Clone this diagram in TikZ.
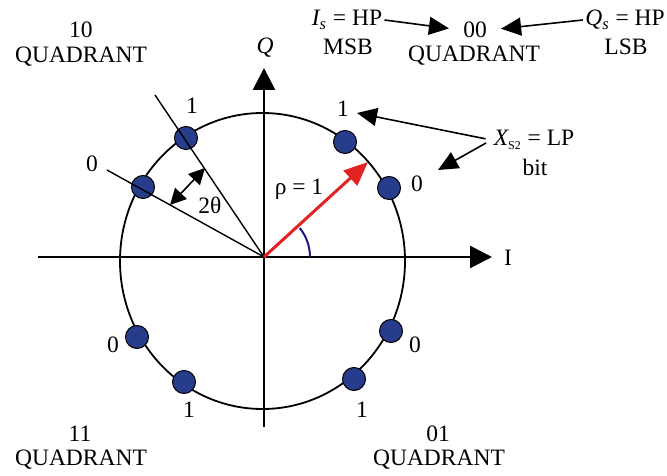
\documentclass[tikz,border=0pt]{standalone}
\usepackage{fontspec}
\setmainfont{Liberation Serif}
\usetikzlibrary{arrows.meta}
\definecolor{dotblue}{RGB}{40,60,140}
\definecolor{arcblue}{RGB}{30,25,130}
\definecolor{vecred}{RGB}{225,35,35}

\begin{document}
\begin{tikzpicture}[
  x=0.5pt, y=0.5pt,
  every node/.style={font=\fontsize{11.75}{13.5}\selectfont,inner sep=1pt},
  sym/.style={circle,draw=black,line width=0.5pt,fill=dotblue,minimum size=11.5pt,inner sep=0pt},
  axis/.style={line width=1.3pt,-{Triangle[length=11pt,width=11pt]}},
  pointer/.style={line width=0.8pt,-{Triangle[length=10pt,width=9pt]}}
]
  \useasboundingbox (-264,-218) rectangle (403,257);
  \coordinate (O) at (0,0);

  % unit circle
  \draw[line width=0.9pt] (-1.5,-4) ellipse [x radius=142.5, y radius=148];

  % signal points
  \node[sym] (ul1) at (-78,119) {};
  \node[sym] (ul0) at (-121,70) {};
  \node[sym] (ur1) at (81,115) {};
  \node[sym] (ur0) at (125,69) {};
  \node[sym] (ll0) at (-127,-80) {};
  \node[sym] (ll1) at (-80,-125) {};
  \node[sym] (lr0) at (127,-74) {};
  \node[sym] (lr1) at (90,-122) {};

  % 2 theta spacing
  \coordinate (r1) at (-109,162);
  \coordinate (r0) at (-157,87);
  \draw[line width=0.7pt] (O) -- (r1);
  \draw[line width=0.7pt] (O) -- (r0);
  \coordinate (da) at (-94,52);
  \coordinate (db) at (-59,89);
  \draw[line width=0.8pt,{Triangle[length=8pt,width=8pt]}-{Triangle[length=8pt,width=8pt]}] (da) -- (db);
  \node (tt) at (-54,52) {2θ};

  % axes
  \coordinate (xl) at (-226,0);
  \coordinate (xr) at (228,0);
  \coordinate (yb) at (0,-170);
  \coordinate (yt) at (0,189);
  \draw[axis] (xl) -- (xr);
  \draw[axis] (yb) -- (yt);
  \node (ilab) at (244,-1) {I};
  \node (qlab) at (1,209) {\itshape Q};

  % HP vector
  \coordinate (tip) at (104,95);
  \draw[vecred,line width=1.5pt,-{Triangle[length=12pt,width=10pt]}] (O) -- (tip);
  \draw[arcblue,line width=1pt] (46,0) arc [start angle=0, end angle=39, radius=46];
  \node (rho) at (35,68) {ρ = 1};

  % bit labels
  \node (ul1lab) at (-72,151) {1};
  \node (ul0lab) at (-172,93) {0};
  \node (ur1lab) at (79,148) {1};
  \node (ur0lab) at (153,73) {0};
  \node (ll0lab) at (-151,-88) {0};
  \node (ll1lab) at (-75,-153) {1};
  \node (lr0lab) at (151,-88) {0};
  \node (lr1lab) at (98,-153) {1};

  % quadrants
  \node (q10) at (-183,227) {10};
  \node (q10b) at (-183,200) {QUADRANT};
  \node (q11) at (-184,-177) {11};
  \node (q11b) at (-183,-203) {QUADRANT};
  \node (q01) at (174,-177) {01};
  \node (q01b) at (175,-203) {QUADRANT};
  \node (q00) at (211,227) {00};
  \node (q00b) at (210,201) {QUADRANT};

  % HP bits
  \node (isl) at (83,237) {{\itshape I}\textsubscript{\itshape s} = HP};
  \node (msb) at (84,210) {MSB};
  \node (qsl) at (361,237) {{\itshape Q}\textsubscript{\itshape s} = HP};
  \node (lsb) at (362,210) {LSB};
  \draw[pointer,shorten >=6pt] (isl.east) -- (q00.west);
  \draw[pointer,shorten >=6pt] (qsl.west) -- (q00.east);

  % LP bit
  \node (xsl) at (270,117) {{\itshape X}\textsubscript{\fontsize{6}{7}\selectfont S2} = LP};
  \node (bit) at (271,90) {bit};
  \coordinate (x1tip) at (93,144);
  \coordinate (x0tip) at (174,87);
  \draw[pointer,shorten <=3pt] (xsl.west) -- (x1tip);
  \draw[pointer,shorten <=3pt] (xsl.west) -- (x0tip);
\end{tikzpicture}
\end{document}
